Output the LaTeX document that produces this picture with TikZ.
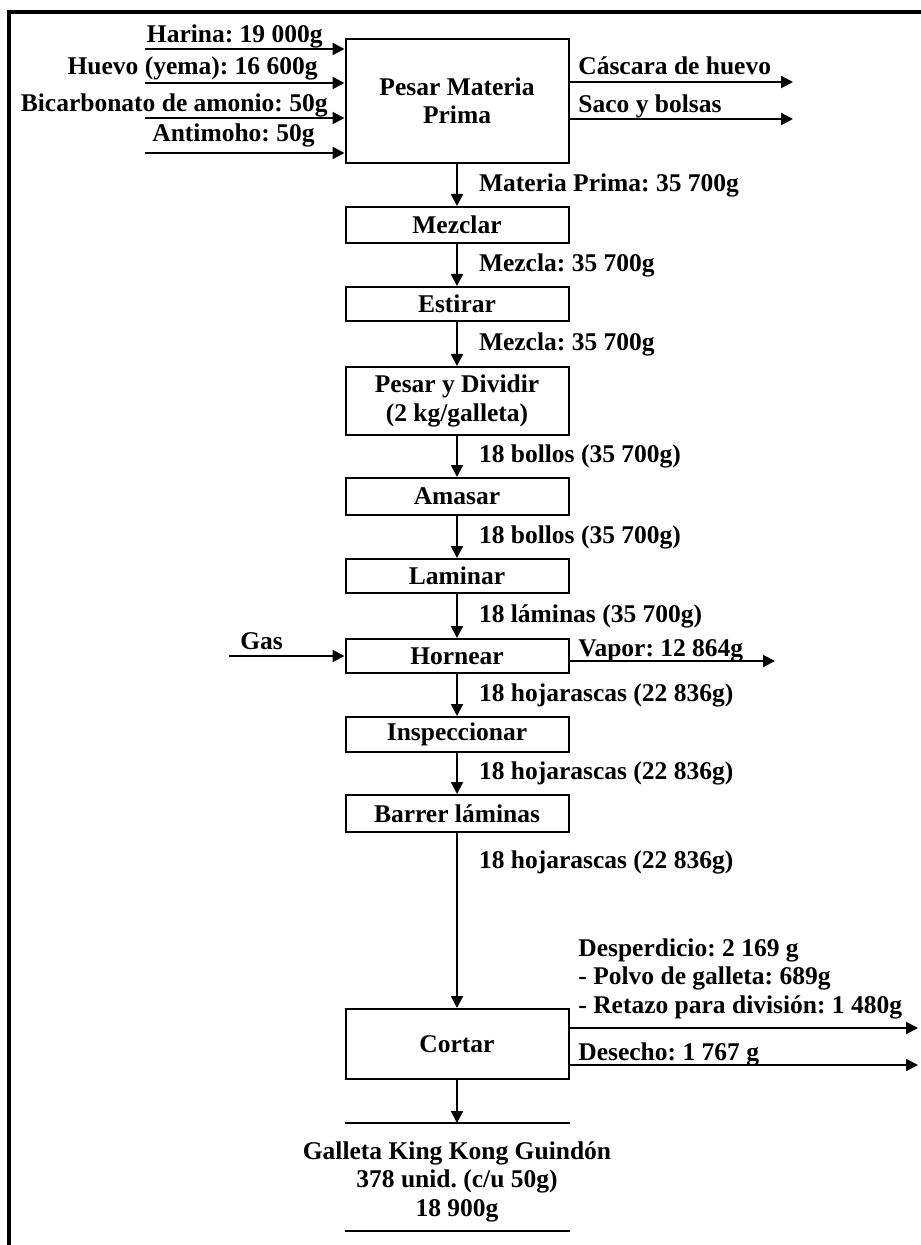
\documentclass[tikz,border=0pt]{standalone}
\usepackage{fontspec}
\setmainfont{Liberation Serif}
\usetikzlibrary{arrows.meta, positioning}
\tikzstyle{block} = [rectangle, 
			draw, 
			line width = 1pt, 
			text centered, 
			align = center, 
			inner sep = 0pt, 
			minimum width = 111.5pt, 
			minimum height = 17pt]
\tikzstyle{flow} = [draw, 
			line width = 1pt, 
			-{Triangle[length=6pt, width=6pt]}]
\tikzstyle{note} = [inner sep = 0pt, align = left]
\tikzstyle{midtext} = [anchor = west, inner sep = 0pt, xshift = 10.5pt]

\begin{document}
\frenchspacing
\begin{tikzpicture}[x = 0.5pt, y = -0.5pt, node distance = 21pt, 
	font = \fontsize{12.75}{14.25}\selectfont\bfseries]
	\useasboundingbox (0,0) rectangle (920,1245);
	% marco
	\draw [line width = 2.3pt] (9,1270) |- (940,12);

	% bloques
	\node [block, minimum height = 62pt] (pesar) at (457,101) {Pesar Materia\\Prima};
	\node [block, minimum height = 18pt, below=of pesar] (mezclar) {Mezclar};
	\node [block, below=of mezclar] (estirar) {Estirar};
	\node [block, minimum height = 34pt, below=22pt of estirar] (dividir) {Pesar y Dividir\\(2 kg/galleta)};
	\node [block, minimum height = 18.5pt, below=20.5pt of dividir] (amasar) {Amasar};
	\node [block, below=of amasar] (laminar) {Laminar};
	\node [block, below=22pt of laminar] (hornear) {Hornear};
	\node [block, minimum height = 17.5pt, below=of hornear] (inspeccionar) {Inspeccionar};
	\node [block, minimum height = 18.5pt, below=20.5pt of inspeccionar] (barrer) {Barrer láminas};
	\node [block, minimum height = 35pt, below=87.5pt of barrer] (cortar) {Cortar};

	% entradas
	\coordinate (harina) at (145,49);
	\coordinate (huevo) at (145,83);
	\coordinate (bicarbonato) at (145,118);
	\coordinate (antimoho) at (145,153);
	\draw [flow] (harina) -- (harina -| pesar.west);
	\draw [flow] (huevo) -- (huevo -| pesar.west);
	\draw [flow] (bicarbonato) -- (bicarbonato -| pesar.west);
	\draw [flow] (antimoho) -- (antimoho -| pesar.west);
	\node [note, anchor = base east] (tharina) at (323,43) {Harina: 19 000g};
	\node [note, anchor = base east] (thuevo) at (318,75) {Huevo (yema): 16 600g};
	\node [note, anchor = base east] (tbicarbonato) at (328,112) {Bicarbonato de amonio: 50g};
	\node [note, anchor = base east] (tantimoho) at (315,142) {Antimoho: 50g};

	% salidas
	\coordinate (cascara) at (793,82);
	\coordinate (saco) at (793,119);
	\draw [flow] (cascara -| pesar.east) -- (cascara);
	\draw [flow] (saco -| pesar.east) -- (saco);
	\node [note, anchor = base west] (tcascara) at (578,75) {Cáscara de huevo};
	\node [note, anchor = base west] (tsaco) at (578,113) {Saco y bolsas};

	% flujo principal
	\draw [flow] (pesar) -- node [midtext] {Materia Prima: 35 700g} (mezclar);
	\draw [flow] (mezclar) -- node [midtext] {Mezcla: 35 700g} (estirar);
	\draw [flow] (estirar) -- node [midtext] {Mezcla: 35 700g} (dividir);
	\draw [flow] (dividir) -- node [midtext] {18 bollos (35 700g)} (amasar);
	\draw [flow] (amasar) -- node [midtext] {18 bollos (35 700g)} (laminar);
	\draw [flow] (laminar) -- node [midtext] {18 láminas (35 700g)} (hornear);
	\draw [flow] (hornear) -- node [midtext] {18 hojarascas (22 836g)} (inspeccionar);
	\draw [flow] (inspeccionar) -- node [midtext] {18 hojarascas (22 836g)} (barrer);
	\draw [flow] (barrer) -- node [midtext, pos = 0.17] {18 hojarascas (22 836g)} (cortar);

	% horno
	\coordinate (gas) at (229,656);
	\coordinate (vapor) at (775,661);
	\draw [flow] (gas) -- (gas -| hornear.west);
	\draw [flow] (vapor -| hornear.east) -- (vapor);
	\node [note, anchor = base west] (tgas) at (240,649) {Gas};
	\node [note, anchor = base west] (tvapor) at (578,656) {Vapor: 12 864g};

	% corte
	\coordinate (desperdicio) at (918,1028);
	\coordinate (desecho) at (918,1065);
	\draw [flow] (desperdicio -| cortar.east) -- (desperdicio);
	\draw [flow] (desecho -| cortar.east) -- (desecho);
	\node [note, anchor = base west] (tdesperdicio) at (578,1013) {Desperdicio: 2 169 g\\- Polvo de galleta: 689g\\- Retazo para división: 1 480g};
	\node [note, anchor = base west] (tdesecho) at (578,1060) {Desecho: 1 767 g};

	% producto
	\coordinate (bartop) at (457,1123);
	\coordinate (barbottom) at (457,1231);
	\draw [flow] (cortar) -- (bartop);
	\draw [line width = 1pt] (bartop -| cortar.west) -- (bartop -| cortar.east);
	\draw [line width = 1pt] (barbottom -| cortar.west) -- (barbottom -| cortar.east);
	\node [note, align = center, anchor = base] (producto) at (457,1216) {Galleta King Kong Guindón\\378 unid. (c/u 50g)\\18 900g};
\end{tikzpicture}
\end{document}
